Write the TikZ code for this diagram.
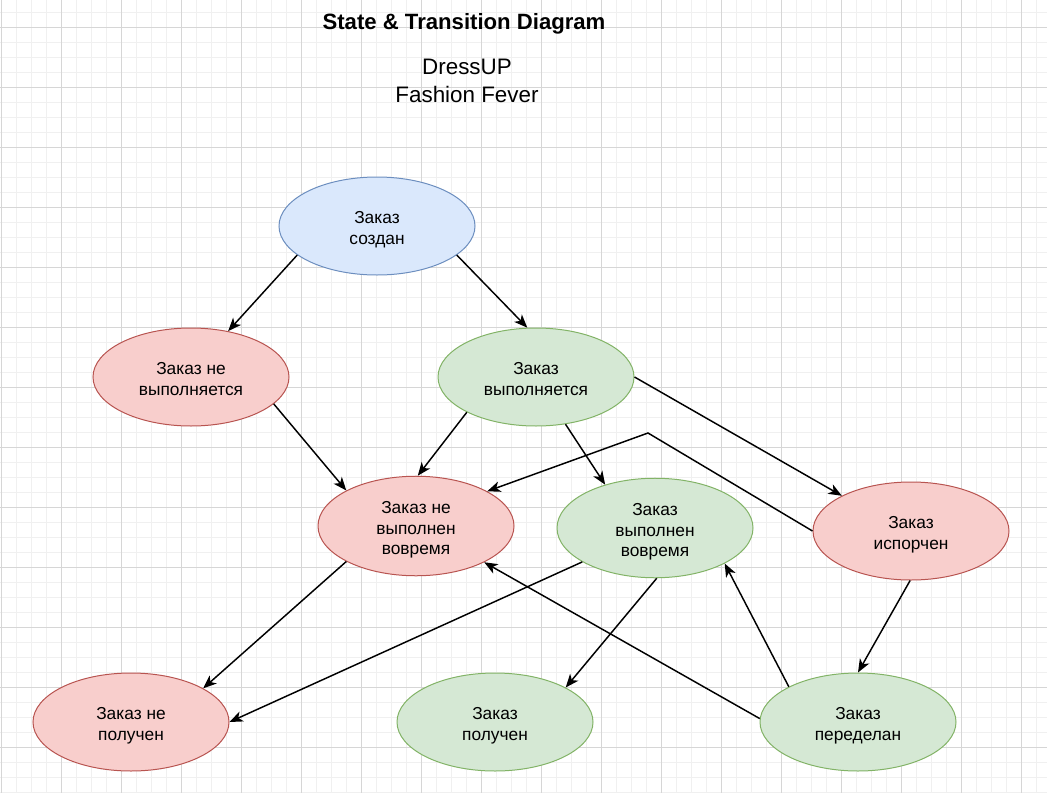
\documentclass[tikz,border=0pt]{standalone}
\usepackage{fontspec}
\setmainfont{Liberation Sans}
\usetikzlibrary{shapes.geometric,arrows.meta}
\definecolor{bluefill}{HTML}{DAE8FC}
\definecolor{blueline}{HTML}{6C8EBF}
\definecolor{redfill}{HTML}{F8CECC}
\definecolor{redline}{HTML}{B85450}
\definecolor{greenfill}{HTML}{D5E8D4}
\definecolor{greenline}{HTML}{82B366}
\definecolor{minorgrid}{HTML}{F0F0F0}
\definecolor{majorgrid}{HTML}{D6D6D6}
\newcommand{\statelines}[1]{\begin{tabular}{@{}c@{}}\rule{0pt}{16.9pt}#1\end{tabular}}
\tikzset{
  gridminor/.style={draw=minorgrid, line width=0.75pt},
  gridmajor/.style={draw=majorgrid, line width=0.75pt},
  state/.style={ellipse, draw, line width=0.75pt, minimum width=147pt,
    minimum height=73.5pt, inner sep=0pt,
    font=\fontsize{13}{15.6}\selectfont},
  bluestate/.style={state, fill=bluefill, draw=blueline},
  redstate/.style={state, fill=redfill, draw=redline},
  greenstate/.style={state, fill=greenfill, draw=greenline},
  trans/.style={-{Stealth[length=10pt,width=8pt,inset=2.8pt]}, line width=1.1pt},
}
\begin{document}
\begin{tikzpicture}[x=0.75pt,y=-0.75pt]
    \useasboundingbox[fill=white] (0,0) rectangle (1047,793);

    % background grid
    \foreach \gx in {1,16,...,1046} \draw[gridminor] (\gx,0) -- (\gx,793);
    \foreach \gy in {12,27,...,792} \draw[gridminor] (0,\gy) -- (1047,\gy);
    \foreach \gx in {1,61,...,1046} \draw[gridmajor] (\gx,0) -- (\gx,793);
    \foreach \gy in {27,87,...,792} \draw[gridmajor] (0,\gy) -- (1047,\gy);

    \node[anchor=base, font=\fontsize{16.6}{20}\selectfont\bfseries] (title) at (464,29) {State \& Transition Diagram};
    \node[align=center, inner sep=0pt, font=\fontsize{16.8}{21}\selectfont] (project) at (467,80.5) {DressUP\\Fashion Fever};

    \node[bluestate]  (created)     at (377,226) {\statelines{Заказ\\создан}};
    \node[redstate]   (notrunning)  at (191,377) {\statelines{Заказ не\\выполняется}};
    \node[greenstate] (running)     at (536,377) {\statelines{Заказ\\выполняется}};
    \node[redstate]   (late)        at (416,526) {\statelines{Заказ не\\выполнен\\вовремя}};
    \node[greenstate] (ontime)      at (655,528) {\statelines{Заказ\\выполнен\\вовремя}};
    \node[redstate]   (spoiled)     at (911,531) {\statelines{Заказ\\испорчен}};
    \node[redstate]   (notreceived) at (131,722) {\statelines{Заказ не\\получен}};
    \node[greenstate] (received)    at (495,722) {\statelines{Заказ\\получен}};
    \node[greenstate] (remade)      at (858,722) {\statelines{Заказ\\переделан}};

    \coordinate (bend) at (648,433);

    \draw[trans] (created.200) -- (notrunning.51);
    \draw[trans] (created.340) -- (running.100);
    \draw[trans] (notrunning.342) -- (late.153);
    \draw[trans] (running.207) -- (late.88);
    \draw[trans] (running.302) -- (ontime.139);
    \draw[trans] (running.0) -- (spoiled.153);
    \draw[trans] (spoiled.180) -- (bend) -- (late.26);
    \draw[trans] (late.207) -- (notreceived.25);
    \draw[trans] (ontime.205) -- (notreceived.0);
    \draw[trans] (ontime.272) -- (received.26);
    \draw[trans] (spoiled.269) -- (remade.90);
    \draw[trans] (remade.153) -- (ontime.333);
    \draw[trans] (remade.178) -- (late.332);
\end{tikzpicture}
\end{document}
